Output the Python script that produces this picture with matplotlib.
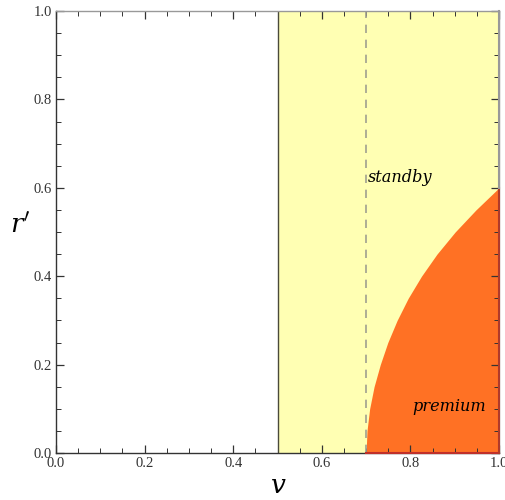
import numpy as np
import matplotlib
matplotlib.use("Agg")
import matplotlib.pyplot as plt
from matplotlib.ticker import MultipleLocator

plt.rcParams["mathtext.fontset"] = "dejavuserif"

# boundary of the "premium" region (r' -> v)
boundary_r = [0.0, 0.05, 0.10, 0.15, 0.20, 0.25, 0.30, 0.35, 0.40, 0.45, 0.50, 0.55, 0.60]
boundary_v = [0.700, 0.702, 0.708, 0.718, 0.732, 0.749, 0.770, 0.795, 0.825, 0.860,
              0.901, 0.948, 1.000]

standby_start = 0.5
threshold_v = 0.7
x_ticks = [0.0, 0.2, 0.4, 0.6, 0.8, 1.0]
y_ticks = [0.0, 0.2, 0.4, 0.6, 0.8, 1.0]

yellow = "#ffffb3"
orange = "#ff7124"

fig = plt.figure(figsize=(5.06, 5.0), dpi=100)
ax = fig.add_axes([56 / 506, 47 / 500, 443 / 506, 442 / 500])

# standby region
ax.axvspan(standby_start, 1.0, color=yellow, lw=0, zorder=0)
ax.axvline(standby_start, color="#4a4a3a", lw=1.0, zorder=2)

# premium region
r = np.array(boundary_r)
v = np.array(boundary_v)
ax.fill_betweenx(r, v, 1.0, color=orange, lw=0, zorder=1)
ax.plot([threshold_v, 1.0], [0, 0], color="#c0302a", lw=1.5, zorder=3, clip_on=False)
ax.plot([1.0, 1.0], [0, 0.6], color="#b03a2a", lw=1.5, zorder=3, clip_on=False)
ax.plot([1.0, 1.0], [0.6, 1.0], color="#999999", lw=1.5, zorder=3, clip_on=False)

# threshold line
ax.axvline(threshold_v, color="#a0a090", lw=1.2, ls=(0, (5, 4)), zorder=2)

ax.text(0.704, 0.614, "standby", fontsize=11.6, family="DejaVu Serif",
        style="italic", va="baseline", ha="left")
ax.text(0.804, 0.096, "premium", fontsize=11.6, family="DejaVu Serif",
        style="italic", va="baseline", ha="left")

ax.set_xlim(0, 1)
ax.set_ylim(0, 1)
ax.set_xticks(x_ticks)
ax.set_yticks(y_ticks)
ax.set_xticklabels([f"{t:.1f}" for t in x_ticks])
ax.set_yticklabels([f"{t:.1f}" for t in y_ticks])
ax.xaxis.set_minor_locator(MultipleLocator(0.05))
ax.yaxis.set_minor_locator(MultipleLocator(0.05))
ax.tick_params(which="both", direction="in", top=True, right=True,
               color="#333333", labelsize=10.5, labelcolor="#333333", pad=3)
ax.tick_params(which="major", length=6, width=0.9)
ax.tick_params(which="minor", length=3.5, width=0.7)
for lab in ax.get_xticklabels() + ax.get_yticklabels():
    lab.set_family("Liberation Serif")

for side in ["left", "bottom"]:
    ax.spines[side].set_color("#333333")
for side in ["top", "right"]:
    ax.spines[side].set_color("#999999")
for s in ax.spines.values():
    s.set_linewidth(1.0)

fig.text(278 / 506, 1 - 486 / 500, "$v$", fontsize=19, ha="center", va="center")
fig.text(20 / 506, 1 - 226 / 500, "$r'$", fontsize=19, ha="center", va="center")

fig.savefig("out.png", dpi=100)
